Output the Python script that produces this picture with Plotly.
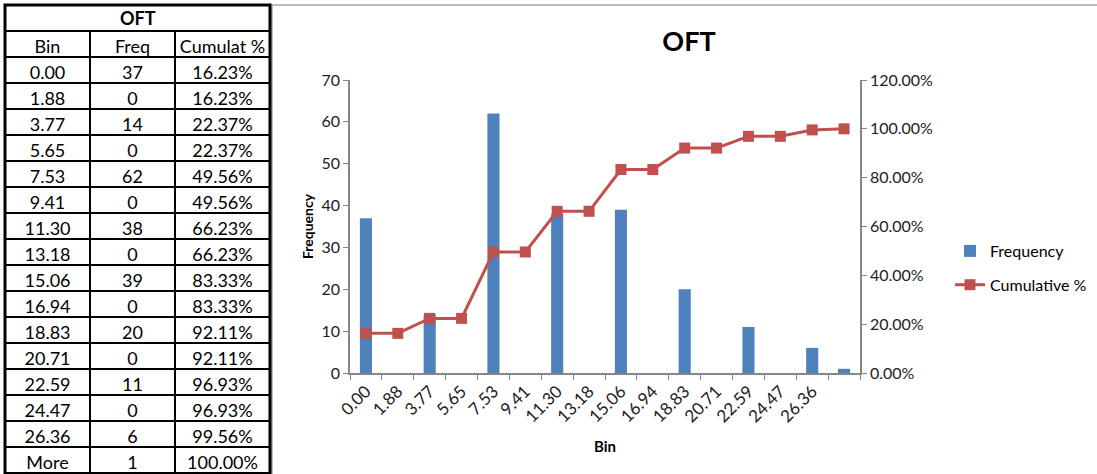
import plotly.graph_objects as go

# Histogram data for OFT
bins = ["0.00", "1.88", "3.77", "5.65", "7.53", "9.41", "11.30", "13.18",
        "15.06", "16.94", "18.83", "20.71", "22.59", "24.47", "26.36", "More"]
freq = [37, 0, 14, 0, 62, 0, 38, 0, 39, 0, 20, 0, 11, 0, 6, 1]
cum_pct = [16.23, 16.23, 22.37, 22.37, 49.56, 49.56, 66.23, 66.23,
           83.33, 83.33, 92.11, 92.11, 96.93, 96.93, 99.56, 100.00]
table_title = "OFT"
table_header = ["Bin", "Freq", "Cumulat\u00a0%"]

W, H = 1097, 474
FONT = "Lato"
BLUE = "#4F81BD"
RED = "#C0504D"
AXIS = "#868686"
ROW = 26
TBL_L, TBL_R, TBL_T = 5, 270, 5


def px_x(x):
    return x / W


def px_y(y):
    return (H - y) / H


fig = go.Figure()

# Data table on the left, below its title row
fig.add_trace(go.Table(
    domain=dict(x=[px_x(TBL_L), px_x(TBL_R)], y=[0, px_y(TBL_T + ROW)]),
    columnwidth=[85, 85, 95],
    header=dict(values=table_header, height=ROW, align="center",
                fill=dict(color="white"), line=dict(color="black", width=2),
                font=dict(family=FONT, size=18, color="black")),
    cells=dict(values=[bins, freq, [f"{v:.2f}%" for v in cum_pct]],
               height=ROW, align="center", fill=dict(color="white"),
               line=dict(color="black", width=2),
               font=dict(family=FONT, size=18, color="black")),
))

# Frequency bars and cumulative % line
fig.add_trace(go.Bar(x=bins, y=freq, name="Frequency", legendgroup="freq",
                     marker=dict(color=BLUE, line=dict(width=0))))
fig.add_trace(go.Scatter(x=bins, y=[v / 100 for v in cum_pct], name="Cumulative %",
                         legendgroup="cum", yaxis="y2", mode="lines+markers",
                         line=dict(color=RED, width=3),
                         marker=dict(symbol="square", size=11, color=RED)))

fig.update_layout(
    template="none",
    width=W, height=H,
    margin=dict(l=0, r=0, t=0, b=0, pad=0, autoexpand=False),
    paper_bgcolor="white", plot_bgcolor="white",
    font=dict(family=FONT, size=16, color="#222222"),
    bargap=0.62,
    showlegend=True,
    legend=dict(x=px_x(950), y=px_y(268), xanchor="left", yanchor="middle",
                font=dict(family=FONT, size=16, color="black"),
                traceorder="grouped", tracegroupgap=10,
                bgcolor="rgba(0,0,0,0)"),
    title=dict(text="<b>OFT</b>", x=px_x(689), xanchor="center",
               y=px_y(42), yanchor="middle",
               font=dict(family=FONT, size=27, color="black")),
    xaxis=dict(domain=[px_x(350), px_x(860)], type="category", automargin=False,
               range=[-0.5, len(bins) - 0.5],
               tickmode="array", tickvals=bins, ticktext=bins[:-1] + [""],
               tickson="boundaries", ticks="outside", ticklen=5,
               tickcolor=AXIS, tickangle=-45, showline=True, linecolor=AXIS,
               linewidth=1.5, showgrid=False, zeroline=False,
               tickfont=dict(family=FONT, size=17, color="#222222"),
               title=dict(text="<b>Bin</b>", standoff=16,
                          font=dict(family=FONT, size=15, color="black"))),
    yaxis=dict(domain=[px_y(373), px_y(80)], range=[0, 70], dtick=10,
               automargin=False,
               ticks="outside", ticklen=5, tickcolor=AXIS, showline=True,
               linecolor=AXIS, linewidth=1.5, showgrid=False, zeroline=False,
               tickfont=dict(family=FONT, size=16, color="#222222"),
               title=dict(text="<b>Frequency</b>", standoff=5,
                          font=dict(family=FONT, size=14, color="black"))),
    yaxis2=dict(overlaying="y", side="right", range=[0, 1.2], dtick=0.2,
                automargin=False,
                tickformat=".2%", ticks="outside", ticklen=5, tickcolor=AXIS,
                showline=True, linecolor=AXIS, linewidth=1.5, showgrid=False,
                zeroline=False,
                tickfont=dict(family=FONT, size=16, color="#222222")),
    shapes=[
        # chart area frame
        dict(type="rect", xref="paper", yref="paper",
             x0=px_x(272), x1=px_x(1100), y0=px_y(480), y1=px_y(5),
             line=dict(color="#A6A6A6", width=1.5), layer="below"),
        # table title row
        dict(type="rect", xref="paper", yref="paper",
             x0=px_x(TBL_L), x1=px_x(TBL_R), y0=px_y(TBL_T + ROW), y1=px_y(TBL_T),
             line=dict(color="black", width=2), layer="below"),
        # heavy outer border of the table
        dict(type="rect", xref="paper", yref="paper",
             x0=px_x(TBL_L), x1=px_x(TBL_R), y0=px_y(480), y1=px_y(TBL_T),
             line=dict(color="black", width=3), layer="above"),
    ],
    annotations=[
        dict(text=f"<b>{table_title}</b>", xref="paper", yref="paper",
             x=px_x((TBL_L + TBL_R) / 2), y=px_y(TBL_T + ROW / 2),
             xanchor="center", yanchor="middle", showarrow=False,
             font=dict(family=FONT, size=18, color="black")),
    ],
)

fig.write_html("out.html")
